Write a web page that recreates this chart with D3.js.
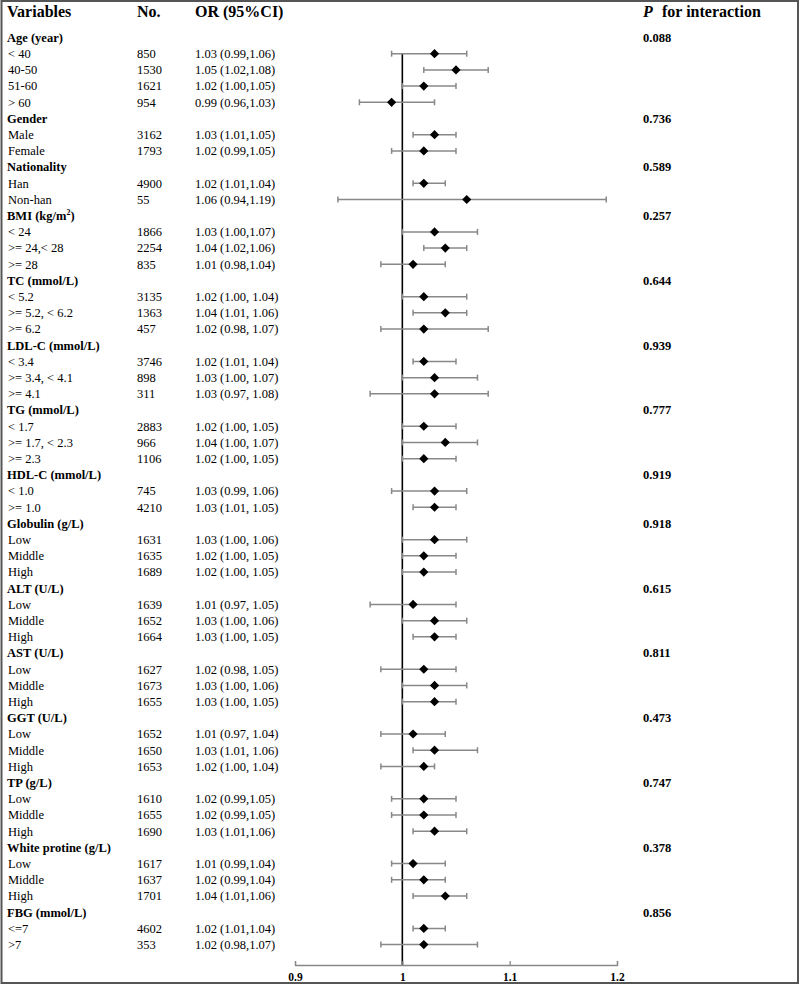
<!DOCTYPE html>
<html><head><meta charset="utf-8">
<script src="https://cdn.jsdelivr.net/npm/d3@7"></script>
<style>body{margin:0;background:#fff}svg{display:block}</style>
</head><body>
<script>
// ---- data ----
const rowLabels = ["Age (year)","< 40","40-50","51-60","> 60",
 "Gender","Male","Female",
 "Nationality","Han","Non-han",
 "BMI (kg/m2)","< 24",">= 24,< 28",">= 28",
 "TC (mmol/L)","< 5.2",">= 5.2, < 6.2",">= 6.2",
 "LDL-C (mmol/L)","< 3.4",">= 3.4, < 4.1",">= 4.1",
 "TG (mmol/L)","< 1.7",">= 1.7, < 2.3",">= 2.3",
 "HDL-C (mmol/L)","< 1.0",">= 1.0",
 "Globulin (g/L)","Low","Middle","High",
 "ALT (U/L)","Low","Middle","High",
 "AST (U/L)","Low","Middle","High",
 "GGT (U/L)","Low","Middle","High",
 "TP (g/L)","Low","Middle","High",
 "White protine (g/L)","Low","Middle","High",
 "FBG (mmol/L)","<=7",">7"];
const isHeader = rowLabels.map((d,i)=>[0,5,8,11,15,19,23,27,30,34,38,42,46,50,54].includes(i));
const rowN = ["","850","1530","1621","954","","3162","1793","","4900","55","","1866","2254","835",
 "","3135","1363","457","","3746","898","311","","2883","966","1106","","745","4210",
 "","1631","1635","1689","","1639","1652","1664","","1627","1673","1655","","1652","1650","1653",
 "","1610","1655","1690","","1617","1637","1701","","4602","353"];
const rowOR = ["","1.03 (0.99,1.06)","1.05 (1.02,1.08)","1.02 (1.00,1.05)","0.99 (0.96,1.03)",
 "","1.03 (1.01,1.05)","1.02 (0.99,1.05)",
 "","1.02 (1.01,1.04)","1.06 (0.94,1.19)",
 "","1.03 (1.00,1.07)","1.04 (1.02,1.06)","1.01 (0.98,1.04)",
 "","1.02 (1.00, 1.04)","1.04 (1.01, 1.06)","1.02 (0.98, 1.07)",
 "","1.02 (1.01, 1.04)","1.03 (1.00, 1.07)","1.03 (0.97, 1.08)",
 "","1.02 (1.00, 1.05)","1.04 (1.00, 1.07)","1.02 (1.00, 1.05)",
 "","1.03 (0.99, 1.06)","1.03 (1.01, 1.05)",
 "","1.03 (1.00, 1.06)","1.02 (1.00, 1.05)","1.02 (1.00, 1.05)",
 "","1.01 (0.97, 1.05)","1.03 (1.00, 1.06)","1.03 (1.00, 1.05)",
 "","1.02 (0.98, 1.05)","1.03 (1.00, 1.06)","1.03 (1.00, 1.05)",
 "","1.01 (0.97, 1.04)","1.03 (1.01, 1.06)","1.02 (1.00, 1.04)",
 "","1.02 (0.99,1.05)","1.02 (0.99,1.05)","1.03 (1.01,1.06)",
 "","1.01 (0.99,1.04)","1.02 (0.99,1.04)","1.04 (1.01,1.06)",
 "","1.02 (1.01,1.04)","1.02 (0.98,1.07)"];
// plotted estimates and CI, as drawn in the figure
const est = [null,1.03,1.05,1.02,0.99, null,1.03,1.02, null,1.02,1.06, null,1.03,1.04,1.01,
 null,1.02,1.04,1.02, null,1.02,1.03,1.03, null,1.02,1.04,1.02, null,1.03,1.03,
 null,1.03,1.02,1.02, null,1.01,1.03,1.03, null,1.02,1.03,1.03, null,1.01,1.03,1.02,
 null,1.02,1.02,1.03, null,1.01,1.02,1.04, null,1.02,1.02];
const lo = [null,0.99,1.02,1.00,0.96, null,1.01,0.99, null,1.01,0.94, null,1.00,1.02,0.98,
 null,1.00,1.01,0.98, null,1.01,1.00,0.97, null,1.00,1.00,1.00, null,0.99,1.01,
 null,1.00,1.00,1.00, null,0.97,1.00,1.01, null,0.98,1.00,1.00, null,0.98,1.01,0.98,
 null,0.99,0.99,1.01, null,0.99,0.99,1.01, null,1.01,0.98];
const hi = [null,1.06,1.08,1.05,1.03, null,1.05,1.05, null,1.04,1.19, null,1.07,1.06,1.04,
 null,1.06,1.06,1.08, null,1.05,1.07,1.08, null,1.05,1.07,1.05, null,1.06,1.05,
 null,1.06,1.05,1.05, null,1.05,1.06,1.05, null,1.05,1.06,1.05, null,1.04,1.07,1.03,
 null,1.05,1.05,1.06, null,1.04,1.04,1.06, null,1.04,1.07];
const pValues = rowLabels.map(()=>null);
const pList = ["0.088","0.736","0.589","0.257","0.644","0.939","0.777","0.919","0.918","0.615","0.811","0.473","0.747","0.378","0.856"];
{let k=0; isHeader.forEach((h,i)=>{ if(h) pValues[i]=pList[k++]; });}
const axisTicks = [0.9,1,1.1,1.2];
const headers = ["Variables","No.","OR (95%CI)"];

// ---- drawing ----
const W=800,H=986;
const svg=d3.select("body").append("svg").attr("width",W).attr("height",H);
const font="'Liberation Serif','Times New Roman',serif";
const x=d3.scaleLinear().domain([0.9,1.2]).range([295,617]);
const y=d3.scaleLinear().domain([0,56]).range([37.5,944.6]);

svg.append("rect").attr("x",1.5).attr("y",1).attr("width",796.5).attr("height",982)
  .attr("fill","none").attr("stroke","#555").attr("stroke-width",2);

const hx=[7,137,195];
headers.forEach((t,i)=>svg.append("text").attr("x",hx[i]).attr("y",17).attr("font-family",font)
  .attr("font-size",16).attr("font-weight","bold").text(t));
const ph=svg.append("g").attr("font-family",font).attr("font-size",16).attr("font-weight","bold");
ph.append("text").attr("x",643).attr("y",17).attr("font-style","italic").text("P");
ph.append("text").attr("x",662).attr("y",17).text("for interaction");

const g=svg.append("g").attr("font-family",font).attr("font-size",12.5);
rowLabels.forEach((lab,i)=>{
  const yy=y(i)+4.3;
  const t=g.append("text").attr("x",isHeader[i]?7:8).attr("y",yy).attr("font-weight",isHeader[i]?"bold":"normal");
  if(lab==="BMI (kg/m2)"){ t.append("tspan").text("BMI (kg/m"); t.append("tspan").attr("font-size",8).attr("dy",-5).text("2"); t.append("tspan").attr("dy",5).text(")"); }
  else t.text(lab);
  if(rowN[i]) g.append("text").attr("x",137).attr("y",yy).text(rowN[i]);
  if(rowOR[i]) g.append("text").attr("x",195).attr("y",yy).text(rowOR[i]);
  if(pValues[i]) g.append("text").attr("x",643).attr("y",yy).attr("font-weight","bold").text(pValues[i]);
});

// reference line at 1
svg.append("line").attr("x1",x(1)).attr("x2",x(1)).attr("y1",y(1)).attr("y2",965)
  .attr("stroke","#000").attr("stroke-width",1.6);

// CI lines
const idx=d3.range(rowLabels.length).filter(i=>est[i]!==null);
const ci=svg.append("g").attr("stroke","#888").attr("stroke-width",1.5);
idx.forEach(i=>{
  ci.append("line").attr("x1",x(lo[i])).attr("x2",x(hi[i])).attr("y1",y(i)).attr("y2",y(i));
  [lo[i],hi[i]].forEach(v=>ci.append("line").attr("x1",x(v)).attr("x2",x(v)).attr("y1",y(i)-3).attr("y2",y(i)+3));
});
svg.append("g").selectAll("path").data(idx).join("path")
  .attr("d",i=>{const cx=x(est[i]),cy=y(i),r=4.6;return `M${cx},${cy-r}L${cx+r},${cy}L${cx},${cy+r}L${cx-r},${cy}Z`;})
  .attr("fill","#000");

// axis
const ax=svg.append("g").attr("transform","translate(0,965)")
  .call(d3.axisTop(x).tickValues(axisTicks).tickFormat(d=>d===1?"1":d3.format("")(d)).tickSize(4));
ax.select(".domain").attr("stroke","#888").attr("stroke-width",1.3);
ax.selectAll(".tick line").attr("stroke","#888").attr("stroke-width",1.3);
ax.selectAll(".tick text").attr("y",16).attr("dy",0).attr("font-family",font).attr("font-size",11.5)
  .attr("font-weight","bold").attr("fill","#000");
</script>
</body></html>
